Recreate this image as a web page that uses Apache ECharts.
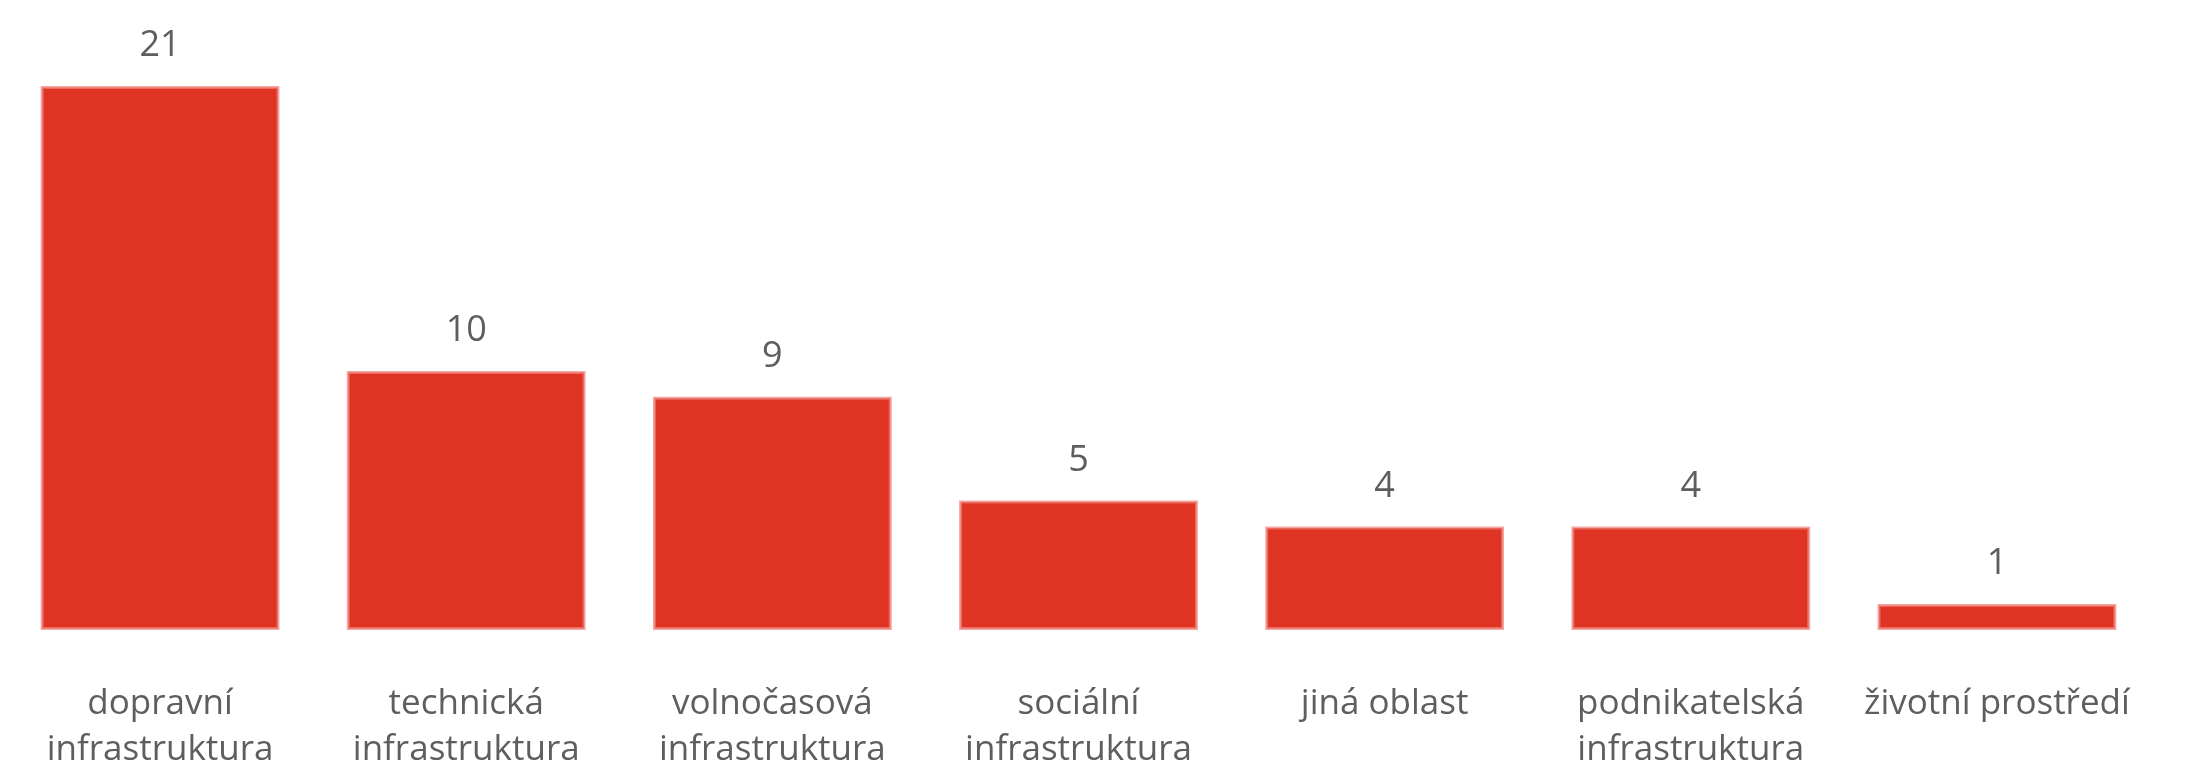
<!DOCTYPE html>
<html>
<head>
<meta charset="utf-8">
<script src="https://cdn.jsdelivr.net/npm/echarts@6/dist/echarts.min.js"></script>
<style>
  html, body { margin: 0; padding: 0; background: #ffffff; }
  #chart { width: 2187px; height: 770px; }
</style>
</head>
<body>
<div id="chart"></div>
<script>
const categories = [
  "dopravní infrastruktura",
  "technická infrastruktura",
  "volnočasová infrastruktura",
  "sociální infrastruktura",
  "jiná oblast",
  "podnikatelská infrastruktura",
  "životní prostředí"
];
const counts = [21, 10, 9, 5, 4, 4, 1];

const chart = echarts.init(document.getElementById("chart"));

chart.setOption({
  animation: false,
  backgroundColor: "#ffffff",
  grid: {
    left: 7, right: 37, top: 86, bottom: 140,
    containLabel: false,
    outerBoundsMode: "none"
  },
  xAxis: {
    type: "category",
    data: categories,
    axisLine: { show: false },
    axisTick: { show: false },
    axisLabel: {
      interval: 0,
      margin: 51,
      hideOverlap: false,
      color: "#605e5c",
      fontFamily: "Open Sans",
      fontSize: 35,
      lineHeight: 46,
      // long names wrap before the second word, as in the original
      formatter: (v) => v.replace(" infrastruktura", "\ninfrastruktura")
    }
  },
  yAxis: {
    type: "value",
    min: 0,
    max: 21,
    show: false,
    splitLine: { show: false }
  },
  series: [
    {
      type: "bar",
      data: counts,
      barCategoryGap: "22%",
      itemStyle: {
        color: "#df3324",
        borderColor: "rgba(240,128,120,0.7)",
        borderWidth: 3
      },
      label: {
        show: true,
        position: "top",
        distance: 22,
        color: "#605e5c",
        fontFamily: "Open Sans",
        fontSize: 36
      }
    }
  ]
});
</script>
</body>
</html>
